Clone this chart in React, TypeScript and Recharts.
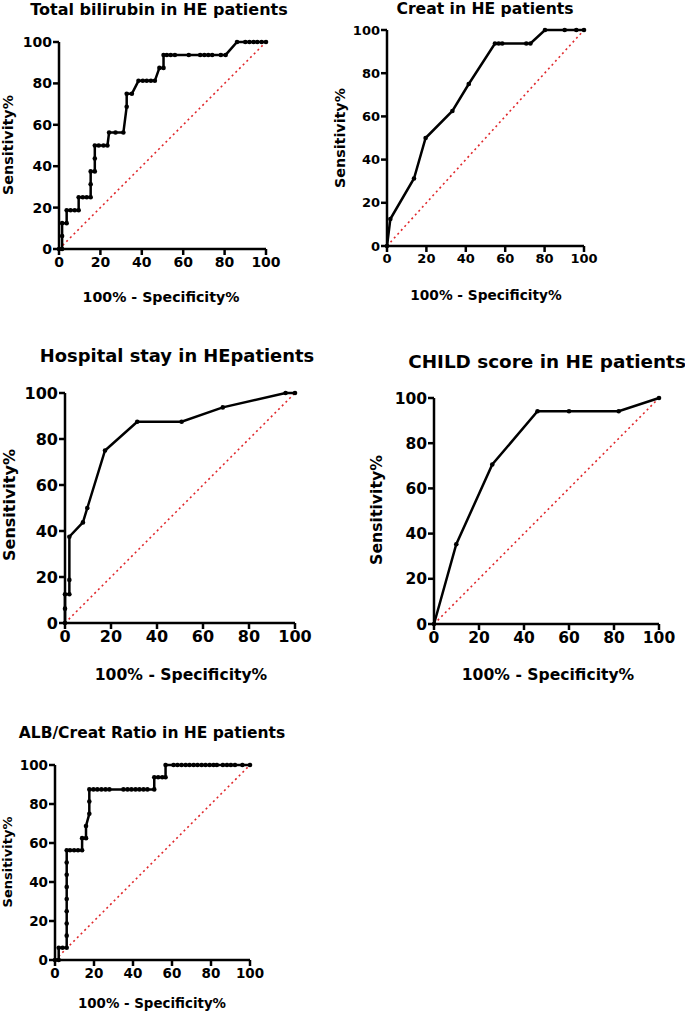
import { LineChart, Line, XAxis, YAxis, ReferenceLine } from 'recharts';

// ROC points (x = 100% - specificity, y = sensitivity)
const axisTicks = [0, 20, 40, 60, 80, 100];

const biliFpr = [0, 1.5, 1.5, 1.5, 3.7, 3.7, 5.6, 7.6, 9.5, 9.5, 11.5, 13.4, 15.3, 15.3, 15.3, 17.3, 17.3, 17.3, 19.2, 21.5, 23.4, 24.2, 27.3, 31.1, 32.7, 32.7, 35.2, 38.4, 40.5, 42.4, 44.4, 46.3, 48.5, 50.5, 50.5, 52.1, 54, 56, 62.7, 68.2, 70.2, 72.1, 74, 78.2, 80.5, 86, 90, 92, 94, 95.8, 97.9, 100];
const biliTpr = [0, 0, 6.25, 12.5, 12.5, 18.75, 18.75, 18.75, 18.75, 25, 25, 25, 25, 31.25, 37.5, 37.5, 43.75, 50, 50, 50, 50, 56.25, 56.25, 56.25, 68.75, 75, 75, 81.25, 81.25, 81.25, 81.25, 81.25, 87.5, 87.5, 93.75, 93.75, 93.75, 93.75, 93.75, 93.75, 93.75, 93.75, 93.75, 93.75, 93.75, 100, 100, 100, 100, 100, 100, 100];

const creatFpr = [0, 1.7, 13.7, 19.6, 33.2, 41.5, 54.8, 56.7, 58.5, 70.7, 72.8, 80.2, 90.2, 96.1, 100];
const creatTpr = [0, 12.5, 31.25, 50, 62.5, 75, 93.75, 93.75, 93.75, 93.75, 93.75, 100, 100, 100, 100];

const stayFpr = [0, 0, 0, 1.9, 1.9, 1.9, 7.8, 9.7, 17.4, 31.4, 50.7, 68.6, 95.9, 100];
const stayTpr = [0, 6.25, 12.5, 12.5, 18.75, 37.5, 43.75, 50, 75, 87.5, 87.5, 93.75, 100, 100];

const childFpr = [0, 9.9, 25.9, 46, 60, 82.1, 100];
const childTpr = [0, 35.29, 70.59, 94.12, 94.12, 94.12, 100];

const albFpr = [0, 1.9, 1.9, 3.9, 6, 6, 6, 6, 6, 6, 6, 6, 6, 7.7, 9.8, 11.8, 13.9, 13.9, 15.9, 15.9, 17.6, 17.6, 17.6, 19.7, 21.7, 23.8, 25.9, 27.9, 35.1, 37.2, 39.2, 41.3, 43.3, 45.4, 47.4, 50.9, 50.9, 52.9, 55, 56.7, 56.7, 60.8, 62.8, 64.9, 67, 69, 71.1, 73.1, 75.2, 77.2, 79.3, 81.3, 83, 86.1, 88.2, 90.2, 92.3, 96.1, 100];
const albTpr = [0, 0, 6.25, 6.25, 6.25, 12.5, 18.75, 25, 31.25, 37.5, 43.75, 50, 56.25, 56.25, 56.25, 56.25, 56.25, 62.5, 62.5, 68.75, 75, 81.25, 87.5, 87.5, 87.5, 87.5, 87.5, 87.5, 87.5, 87.5, 87.5, 87.5, 87.5, 87.5, 87.5, 87.5, 93.75, 93.75, 93.75, 93.75, 100, 100, 100, 100, 100, 100, 100, 100, 100, 100, 100, 100, 100, 100, 100, 100, 100, 100, 100];

const FONT = "'DejaVu Sans', sans-serif";

interface TextProps {
  x: number;
  y: number;
  size: number;
  rotate?: boolean;
  children: string;
}

function Caption({ x, y, size, rotate, children }: TextProps) {
  return (
    <div
      style={{
        position: 'absolute',
        left: x,
        top: y,
        transform: `translate(-50%, -50%)${rotate ? ' rotate(-90deg)' : ''}`,
        fontFamily: FONT,
        fontWeight: 700,
        fontSize: size,
        whiteSpace: 'nowrap',
        color: '#000',
        lineHeight: 1,
      }}
    >
      {children}
    </div>
  );
}

interface RocPanelProps {
  fpr: number[];
  tpr: number[];
  left: number;
  top: number;
  width: number;
  height: number;
  tickSize: number;
}

function RocPanel({ fpr, tpr, left, top, width, height, tickSize }: RocPanelProps) {
  const data = fpr.map((x, i) => ({ x, y: tpr[i] }));
  const yAxisW = 50;
  const xAxisH = 40;
  const mTop = 10;
  const mRight = 20;
  const tick = { fill: '#000', fontSize: tickSize, fontWeight: 700, fontFamily: FONT };
  const axisLine = { stroke: '#000', strokeWidth: 2.5 };

  return (
    <div style={{ position: 'absolute', left: left - yAxisW, top: top - mTop }}>
      <LineChart
        width={width + yAxisW + mRight}
        height={height + mTop + xAxisH}
        data={data}
        margin={{ top: mTop, right: mRight, left: 0, bottom: 0 }}
      >
        <XAxis
          dataKey="x"
          type="number"
          domain={[0, 100]}
          ticks={axisTicks}
          interval={0}
          height={xAxisH}
          axisLine={axisLine}
          tickLine={axisLine}
          tickSize={6}
          tick={tick}
        />
        <YAxis
          type="number"
          domain={[0, 100]}
          ticks={axisTicks}
          interval={0}
          width={yAxisW}
          axisLine={axisLine}
          tickLine={axisLine}
          tickSize={6}
          tickMargin={1}
          tick={tick}
        />
        <ReferenceLine
          segment={[{ x: 0, y: 0 }, { x: 100, y: 100 }]}
          stroke="#e0282c"
          strokeWidth={1.6}
          strokeDasharray="2 3.2"
        />
        <Line
          dataKey="y"
          type="linear"
          stroke="#000"
          strokeWidth={2.5}
          dot={{ r: 2.3, fill: '#000', stroke: '#000', strokeWidth: 0 }}
          isAnimationActive={false}
        />
      </LineChart>
    </div>
  );
}

export default function App() {
  return (
    <div style={{ position: 'absolute', left: 0, top: 0, width: 685, height: 1013, background: '#fff', overflow: 'hidden' }}>
      {/* Total bilirubin */}
      <RocPanel fpr={biliFpr} tpr={biliTpr} left={59} top={42} width={207} height={207} tickSize={14} />
      <Caption x={159} y={10} size={16}>Total bilirubin in HE patients</Caption>
      <Caption x={8} y={145} size={14.3} rotate>Sensitivity%</Caption>
      <Caption x={161} y={297} size={14.2}>100% - Specificity%</Caption>

      {/* Creat */}
      <RocPanel fpr={creatFpr} tpr={creatTpr} left={387} top={30} width={197} height={216} tickSize={13} />
      <Caption x={485} y={10} size={15.6}>Creat in HE patients</Caption>
      <Caption x={340} y={138} size={14.3} rotate>Sensitivity%</Caption>
      <Caption x={486} y={296} size={13.7}>100% - Specificity%</Caption>

      {/* Hospital stay */}
      <RocPanel fpr={stayFpr} tpr={stayTpr} left={65} top={393} width={230} height={230} tickSize={16} />
      <Caption x={177} y={356} size={17.9}>Hospital stay in HEpatients</Caption>
      <Caption x={10} y={505} size={16} rotate>Sensitivity%</Caption>
      <Caption x={181} y={676} size={15.6}>100% - Specificity%</Caption>

      {/* CHILD score */}
      <RocPanel fpr={childFpr} tpr={childTpr} left={434} top={398} width={225} height={226} tickSize={15.5} />
      <Caption x={547} y={362} size={18.4}>CHILD score in HE patients</Caption>
      <Caption x={377} y={510} size={15.7} rotate>Sensitivity%</Caption>
      <Caption x={548} y={676} size={15.6}>100% - Specificity%</Caption>

      {/* ALB/Creat ratio */}
      <RocPanel fpr={albFpr} tpr={albTpr} left={55} top={765} width={195} height={195} tickSize={13.5} />
      <Caption x={152} y={734} size={15.5}>ALB/Creat Ratio in HE patients</Caption>
      <Caption x={7} y={862} size={13} rotate>Sensitivity%</Caption>
      <Caption x={152} y={1004} size={13.4}>100% - Specificity%</Caption>
    </div>
  );
}
